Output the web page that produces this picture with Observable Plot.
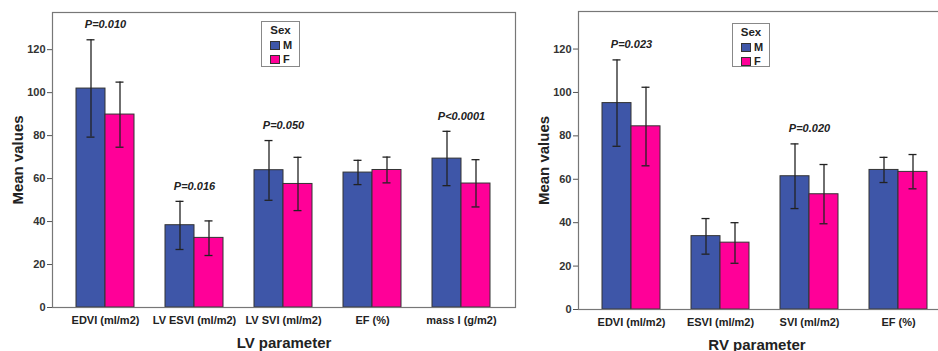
<!DOCTYPE html>
<html>
<head>
<meta charset="utf-8">
<script src="https://cdn.jsdelivr.net/npm/d3@7"></script>
<script src="https://cdn.jsdelivr.net/npm/@observablehq/plot@0.6"></script>
<style>
  html, body { margin: 0; padding: 0; background: #fff; }
  #wrap { position: relative; width: 938px; height: 351px; overflow: hidden; background: #fff; }
  .panel { position: absolute; top: 0; }
  .panel svg { overflow: visible; max-width: none !important; }
  g[aria-label="y-axis label"] text { font-size: 15px; fill: #222; }
  g[aria-label="y-axis tick label"] text { fill: #333; }
  .legend { position: absolute; background: #fff; border: 1px solid #888; font-family: "Liberation Sans", Arial, sans-serif; font-weight: bold; font-size: 11px; color: #222; box-sizing: border-box; }
  .legend .t { text-align: center; margin-top: 2px; line-height: 13px; font-size: 11.5px; }
  .legend .row { display: flex; align-items: center; margin-left: 8px; margin-top: 3px; line-height: 11px; }
  .legend .sw { width: 10px; height: 9px; border: 1px solid #333; margin-right: 3px; box-sizing: border-box; }
</style>
</head>
<body>
<div id="wrap">
  <div class="panel" id="lv" style="left:0px; width:530px"></div>
  <div class="panel" id="rv" style="left:530px; width:430px"></div>
</div>
<script>
// ---- data ----
const sexes = ["M", "F"];
const sexColors = ["#3E56A8", "#FF0098"];
const yTicks = [0, 20, 40, 60, 80, 100, 120];

const lvCategories = ["EDVI (ml/m2)", "LV ESVI (ml/m2)", "LV SVI (ml/m2)", "EF (%)", "mass I (g/m2)"];
const lvMaleMean   = [101.9, 38.3, 63.9, 62.8, 69.3];
const lvMaleLow    = [79.3, 27.0, 49.9, 57.2, 56.7];
const lvMaleHigh   = [124.6, 49.4, 77.7, 68.5, 82.0];
const lvFemaleMean = [89.8, 32.4, 57.5, 64.0, 57.7];
const lvFemaleLow  = [74.6, 24.2, 45.1, 58.0, 46.8];
const lvFemaleHigh = [104.9, 40.3, 69.9, 70.0, 68.8];
const lvPValues    = ["P=0.010", "P=0.016", "P=0.050", "", "P<0.0001"];

const rvCategories = ["EDVI (ml/m2)", "ESVI (ml/m2)", "SVI (ml/m2)", "EF (%)"];
const rvMaleMean   = [95.1, 33.8, 61.4, 64.3];
const rvMaleLow    = [75.2, 25.5, 46.5, 58.5];
const rvMaleHigh   = [115.0, 41.9, 76.3, 70.1];
const rvFemaleMean = [84.4, 30.8, 53.1, 63.4];
const rvFemaleLow  = [66.2, 21.3, 39.5, 55.6];
const rvFemaleHigh = [102.4, 40.0, 66.8, 71.4];
const rvPValues    = ["P=0.023", "", "P=0.020", ""];

function buildRows(cats, mean, low, high, sex) {
  return cats.map((c, i) => ({cat: c, sex, mean: mean[i], low: low[i], high: high[i]}));
}
function buildP(cats, pv, mH, fH) {
  return cats.map((c, i) => ({cat: c, p: pv[i], top: Math.max(mH[i], fH[i])})).filter(d => d.p);
}

function panel({cats, male, female, prow, xLabel, labelShift, width, marginLeft, marginRight, marginTop, marginBottom, paddingInner, paddingOuter}) {
  const base = {
    width, height: 351, marginLeft, marginRight, marginTop, marginBottom,
    style: {fontFamily: "'Liberation Sans', Arial, sans-serif", fontSize: "11px", fontWeight: "bold", color: "#222", background: "transparent"},
    x: {domain: cats, paddingInner, paddingOuter},
    y: {domain: [0, 137.3]},
    color: {domain: sexes, range: sexColors}
  };
  // probe the band scale to split each band between the two sexes
  const probe = Plot.plot({...base, marks: [Plot.barY(male, {x: "cat", y: "mean"})]});
  const bw = probe.scale("x").bandwidth;
  const half = bw / 2, q = bw / 4, cap = 4;
  const err = {stroke: "#222", strokeWidth: 1.3};
  return Plot.plot({
    ...base,
    marks: [
      Plot.barY(male, {x: "cat", y: "mean", fill: "sex", stroke: "#333", strokeWidth: 1, insetRight: half}),
      Plot.barY(female, {x: "cat", y: "mean", fill: "sex", stroke: "#333", strokeWidth: 1, insetLeft: half}),
      Plot.ruleX(male, {x: "cat", y1: "low", y2: "high", dx: -q, ...err}),
      Plot.ruleX(female, {x: "cat", y1: "low", y2: "high", dx: q, ...err}),
      Plot.tickY(male, {x: "cat", y: "low", insetLeft: q - cap, insetRight: 3 * q - cap, ...err}),
      Plot.tickY(male, {x: "cat", y: "high", insetLeft: q - cap, insetRight: 3 * q - cap, ...err}),
      Plot.tickY(female, {x: "cat", y: "low", insetLeft: 3 * q - cap, insetRight: q - cap, ...err}),
      Plot.tickY(female, {x: "cat", y: "high", insetLeft: 3 * q - cap, insetRight: q - cap, ...err}),
      Plot.text(prow, {x: "cat", y: "top", text: "p", dy: -15, fontStyle: "italic", fontWeight: "bold", fontSize: 11, fill: "#222"}),
      Plot.frame({stroke: "#777", strokeWidth: 1.2}),
      Plot.axisY({ticks: yTicks, tickSize: 5, tickPadding: 2, stroke: "#555", label: "Mean values", labelAnchor: "center", labelArrow: "none", labelOffset: 40}),
      Plot.axisX({anchor: "bottom", tickSize: 0, tickPadding: 9, label: null}),
      Plot.text([xLabel], {frameAnchor: "bottom", lineAnchor: "bottom", dy: 40, dx: labelShift, fontSize: 15, fontWeight: "bold", fill: "#222"})
    ]
  });
}

document.getElementById("lv").append(panel({
  cats: lvCategories,
  male: buildRows(lvCategories, lvMaleMean, lvMaleLow, lvMaleHigh, "M"),
  female: buildRows(lvCategories, lvFemaleMean, lvFemaleLow, lvFemaleHigh, "F"),
  prow: buildP(lvCategories, lvPValues, lvMaleHigh, lvFemaleHigh),
  xLabel: "LV parameter", labelShift: 0, width: 530, marginLeft: 52, marginRight: 15, marginTop: 12, marginBottom: 44,
  paddingInner: 0.348, paddingOuter: 0.256
}));
document.getElementById("rv").append(panel({
  cats: rvCategories,
  male: buildRows(rvCategories, rvMaleMean, rvMaleLow, rvMaleHigh, "M"),
  female: buildRows(rvCategories, rvFemaleMean, rvFemaleLow, rvFemaleHigh, "F"),
  prow: buildP(rvCategories, rvPValues, rvMaleHigh, rvFemaleHigh),
  xLabel: "RV parameter", labelShift: -8, width: 430, marginLeft: 48, marginRight: 9, marginTop: 11, marginBottom: 42,
  paddingInner: 0.345, paddingOuter: 0.26
}));

// legends (HTML)
function legend(left, top, w, h) {
  const d = document.createElement("div");
  d.className = "legend";
  d.style.left = left + "px"; d.style.top = top + "px"; d.style.width = w + "px"; d.style.height = h + "px";
  let html = '<div class="t">Sex</div>';
  sexes.forEach((s, i) => {
    html += `<div class="row"><span class="sw" style="background:${sexColors[i]}"></span>${s}</div>`;
  });
  d.innerHTML = html;
  document.getElementById("wrap").append(d);
}
legend(261, 21, 39, 46);
legend(732, 23, 38, 44);
</script>
</body>
</html>
